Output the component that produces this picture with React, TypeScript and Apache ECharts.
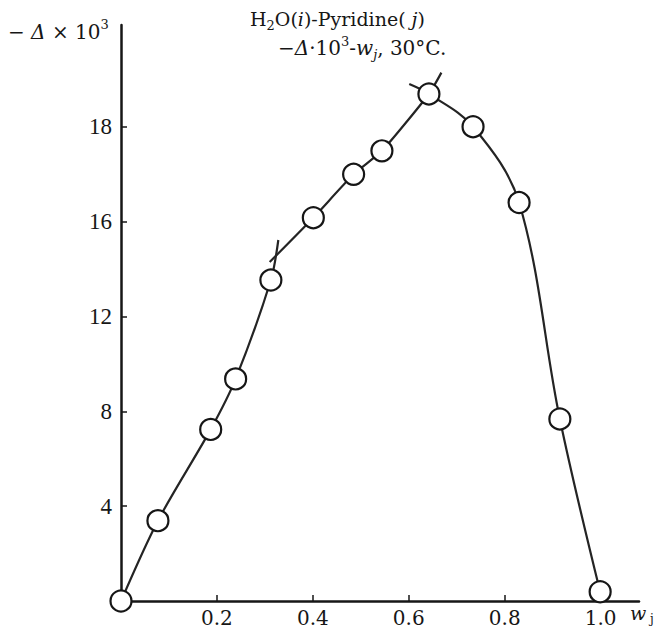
import { useEffect, useRef } from 'react';
import * as echarts from 'echarts';

// Measured points (w_j, -Δ×10^3)
const pointW = [0, 0.077, 0.187, 0.239, 0.3125, 0.401, 0.485, 0.544, 0.642, 0.734, 0.83, 0.915, 0.999];
const pointD = [0, 3.39, 7.24, 9.37, 13.54, 16.17, 18.0, 18.99, 21.39, 20.01, 16.81, 7.68, 0.39];

// Drawn curve branches (including the short overshoot strokes)
const lowBranchW = [0, 0.077, 0.187, 0.239, 0.3125, 0.328];
const lowBranchD = [0, 3.39, 7.24, 9.37, 13.54, 15.23];
const midBranchW = [0.31, 0.401, 0.485, 0.544, 0.642, 0.668];
const midBranchD = [14.3, 16.17, 18.0, 18.99, 21.39, 22.29];
const highBranchW = [0.601, 0.642, 0.734, 0.83, 0.915, 0.999];
const highBranchD = [21.81, 21.39, 20.01, 16.81, 7.68, 0.39];

const xTicks = [0.2, 0.4, 0.6, 0.8, 1.0];
const yTicks = [4, 8, 12, 16, 20];
const yTickLabels = ['4', '8', '12', '16', '18'];

const pair = (xs: number[], ys: number[]) => xs.map((x, i) => [x, ys[i]]);

export default function App() {
  const ref = useRef<HTMLDivElement>(null);
  useEffect(() => {
    const chart = echarts.init(ref.current!, null, { renderer: 'svg' });
    const ink = '#161616';
    const serif = 'DejaVu Serif';
    const lineStyle = { color: '#242424', width: 2.2 };
    const base = { fontFamily: serif, fontSize: 19, fill: ink };
    chart.setOption({
      animation: false,
      backgroundColor: '#ffffff',
      grid: { left: 121, right: 21, top: 25, bottom: 30 },
      xAxis: {
        type: 'value',
        min: 0,
        max: 1.08,
        axisLine: { show: true, onZero: false, lineStyle: { color: ink, width: 2.5 } },
        axisTick: { show: true, inside: true, length: 6, customValues: xTicks, lineStyle: { color: ink, width: 1.5 } },
        axisLabel: {
          show: true,
          customValues: xTicks,
          formatter: (v: number) => v.toFixed(1),
          fontFamily: serif,
          fontSize: 20,
          color: ink,
          margin: 7,
        },
        splitLine: { show: false },
      },
      yAxis: {
        type: 'value',
        min: 0,
        max: 24.3,
        axisLine: { show: true, onZero: false, lineStyle: { color: ink, width: 2.5 } },
        axisTick: { show: true, inside: true, length: 6, customValues: yTicks, lineStyle: { color: ink, width: 1.5 } },
        axisLabel: {
          show: true,
          customValues: yTicks,
          formatter: (v: number) => yTickLabels[yTicks.indexOf(v)] ?? '',
          fontFamily: 'Liberation Serif',
          fontSize: 23,
          color: ink,
          margin: 9,
        },
        splitLine: { show: false },
      },
      series: [
        { type: 'line', data: pair(lowBranchW, lowBranchD), smooth: 0.3, symbol: 'none', lineStyle, z: 2 },
        { type: 'line', data: pair(midBranchW, midBranchD), smooth: 0.2, symbol: 'none', lineStyle, z: 2 },
        { type: 'line', data: pair(highBranchW, highBranchD), smooth: 0.35, symbol: 'none', lineStyle, z: 2 },
        {
          type: 'scatter',
          data: pair(pointW, pointD),
          symbol: 'circle',
          symbolSize: 21,
          itemStyle: { color: '#ffffff', borderColor: ink, borderWidth: 2.2, opacity: 1 },
          z: 5,
        },
      ],
      graphic: [
        {
          type: 'text',
          left: 8,
          top: 18,
          style: {
            text: '{n|− }{d|Δ}{n| × 10}{sup|3}',
            rich: {
              n: { fontFamily: serif, fontSize: 20, fill: ink, lineHeight: 28 },
              d: { fontFamily: serif, fontSize: 20, fontStyle: 'italic', fill: ink, lineHeight: 28 },
              sup: { fontFamily: serif, fontSize: 13, fill: ink, lineHeight: 16, verticalAlign: 'top' },
            },
          },
        },
        {
          type: 'text',
          left: 250,
          top: 9,
          style: {
            text: '{n|H}{sub|2}{n|O(}{i|i}{n|)-Pyridine(}{i| j}{n|)}',
            rich: {
              n: { ...base, lineHeight: 26 },
              i: { ...base, fontStyle: 'italic', lineHeight: 26 },
              sub: { fontFamily: serif, fontSize: 13, fill: ink, lineHeight: 16, verticalAlign: 'bottom' },
            },
          },
        },
        {
          type: 'text',
          left: 278,
          top: 35,
          style: {
            text: '{n|−}{i|Δ}{n|·10}{sup|3}{n|-}{i|w}{sub|j}{n|, 30°C.}',
            rich: {
              n: { ...base, fontSize: 20, lineHeight: 26 },
              i: { ...base, fontSize: 20, fontStyle: 'italic', lineHeight: 26 },
              sup: { fontFamily: serif, fontSize: 13, fill: ink, lineHeight: 16, verticalAlign: 'top' },
              sub: { fontFamily: serif, fontSize: 13, fontStyle: 'italic', fill: ink, lineHeight: 14, verticalAlign: 'bottom' },
            },
          },
        },
        {
          type: 'text',
          left: 630,
          top: 603,
          style: {
            text: '{i|w}{sub| j}',
            rich: {
              i: { fontFamily: serif, fontSize: 19, fontStyle: 'italic', fill: ink, lineHeight: 24 },
              sub: { fontFamily: serif, fontSize: 12, fill: ink, lineHeight: 14, verticalAlign: 'bottom' },
            },
          },
        },
      ],
    });
    return () => chart.dispose();
  }, []);
  return <div ref={ref} style={{ position: 'absolute', left: 0, top: 0, width: 660, height: 631 }} />;
}
